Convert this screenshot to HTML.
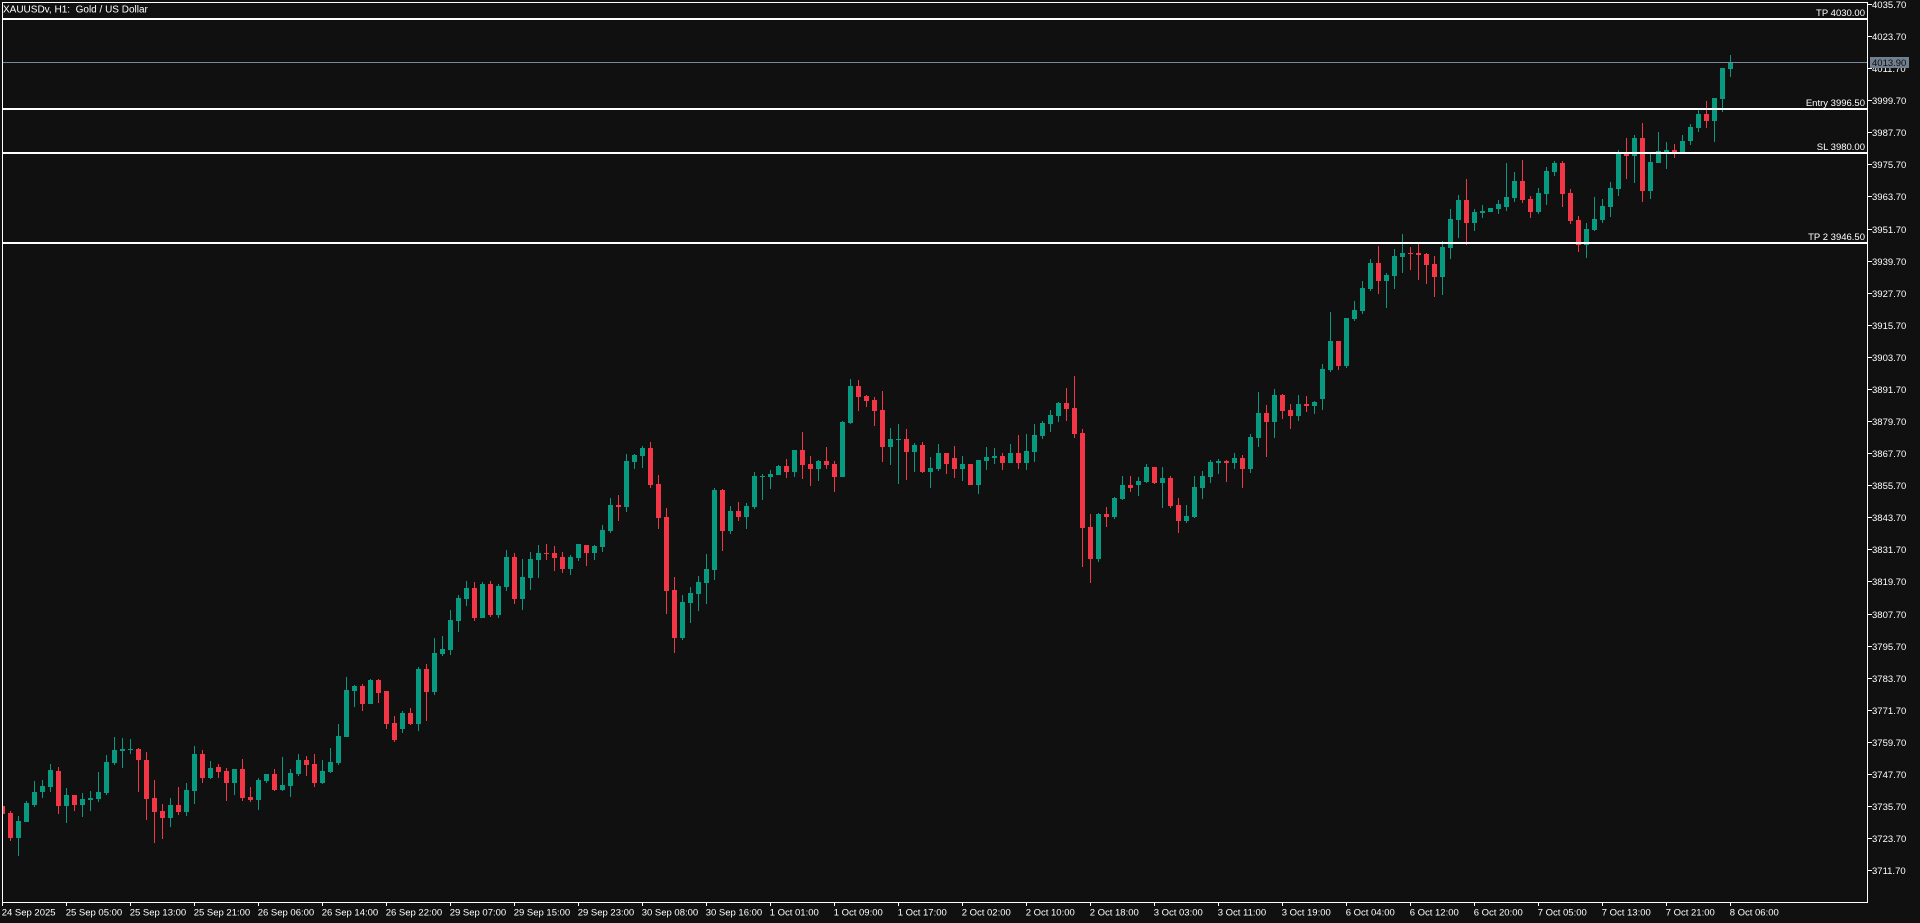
<!DOCTYPE html>
<html><head><meta charset="utf-8"><style>
html,body{margin:0;padding:0;background:#101010;width:1920px;height:923px;overflow:hidden}
svg{display:block}
text{font-family:"Liberation Sans",sans-serif;fill:#ffffff}
</style></head><body>
<svg width="1920" height="923" viewBox="0 0 1920 923" xmlns="http://www.w3.org/2000/svg">
<rect x="0" y="0" width="1920" height="923" fill="#101010"/>
<defs><clipPath id="pc"><rect x="3" y="3" width="1864" height="899"/></clipPath></defs>
<g clip-path="url(#pc)" shape-rendering="crispEdges">
<g fill="#f23645">
<path d="M0 806h5v8h-5zM2 806h1v8h-1z"/><path d="M8 813h5v25h-5zM10 811h1v30h-1z"/><path d="M56 771h5v35h-5zM58 767h1v47h-1z"/><path d="M72 795h5v10h-5zM74 795h1v16h-1z"/><path d="M136 749h5v11h-5zM138 748h1v44h-1z"/><path d="M144 760h5v39h-5zM146 752h1v68h-1z"/><path d="M152 798h5v14h-5zM154 780h1v63h-1z"/><path d="M160 811h5v7h-5zM162 804h1v35h-1z"/><path d="M176 805h5v7h-5zM178 787h1v28h-1z"/><path d="M200 754h5v24h-5zM202 750h1v33h-1z"/><path d="M216 767h5v5h-5zM218 764h1v14h-1z"/><path d="M224 771h5v12h-5zM226 768h1v33h-1z"/><path d="M240 769h5v29h-5zM242 759h1v42h-1z"/><path d="M248 797h5v3h-5zM250 787h1v15h-1z"/><path d="M272 774h5v16h-5zM274 769h1v22h-1z"/><path d="M304 760h5v5h-5zM306 756h1v20h-1z"/><path d="M312 764h5v19h-5zM314 754h1v33h-1z"/><path d="M360 686h5v18h-5zM362 684h1v27h-1z"/><path d="M376 680h5v13h-5zM378 679h1v24h-1z"/><path d="M384 691h5v33h-5zM386 691h1v38h-1z"/><path d="M392 723h5v17h-5zM394 716h1v26h-1z"/><path d="M408 713h5v11h-5zM410 708h1v17h-1z"/><path d="M424 669h5v23h-5zM426 664h1v57h-1z"/><path d="M472 588h5v30h-5zM474 582h1v39h-1z"/><path d="M488 584h5v31h-5zM490 581h1v36h-1z"/><path d="M512 557h5v42h-5zM514 553h1v51h-1z"/><path d="M544 553h5v1h-5zM546 544h1v16h-1z"/><path d="M552 553h5v5h-5zM554 546h1v25h-1z"/><path d="M560 557h5v12h-5zM562 552h1v21h-1z"/><path d="M584 545h5v8h-5zM586 545h1v21h-1z"/><path d="M616 505h5v2h-5zM618 495h1v26h-1z"/><path d="M648 448h5v37h-5zM650 442h1v46h-1z"/><path d="M656 484h5v34h-5zM658 475h1v54h-1z"/><path d="M664 517h5v74h-5zM666 508h1v106h-1z"/><path d="M672 590h5v48h-5zM674 577h1v76h-1z"/><path d="M720 490h5v41h-5zM722 489h1v62h-1z"/><path d="M736 511h5v6h-5zM738 502h1v19h-1z"/><path d="M784 466h5v6h-5zM786 459h1v19h-1z"/><path d="M800 450h5v15h-5zM802 432h1v47h-1z"/><path d="M808 464h5v5h-5zM810 456h1v30h-1z"/><path d="M824 461h5v4h-5zM826 447h1v22h-1z"/><path d="M832 464h5v13h-5zM834 461h1v31h-1z"/><path d="M856 386h5v11h-5zM858 380h1v31h-1z"/><path d="M864 396h5v5h-5zM866 395h1v12h-1z"/><path d="M872 400h5v11h-5zM874 397h1v29h-1z"/><path d="M880 410h5v37h-5zM882 391h1v71h-1z"/><path d="M904 439h5v13h-5zM906 429h1v51h-1z"/><path d="M920 445h5v27h-5zM922 442h1v31h-1z"/><path d="M944 453h5v11h-5zM946 453h1v21h-1z"/><path d="M952 458h5v11h-5zM954 446h1v32h-1z"/><path d="M968 464h5v21h-5zM970 464h1v21h-1z"/><path d="M1000 456h5v7h-5zM1002 453h1v17h-1z"/><path d="M1016 453h5v10h-5zM1018 435h1v34h-1z"/><path d="M1064 403h5v6h-5zM1066 388h1v33h-1z"/><path d="M1072 408h5v26h-5zM1074 376h1v62h-1z"/><path d="M1080 433h5v95h-5zM1082 429h1v138h-1z"/><path d="M1088 527h5v32h-5zM1090 514h1v69h-1z"/><path d="M1104 514h5v3h-5zM1106 507h1v20h-1z"/><path d="M1128 485h5v3h-5zM1130 476h1v16h-1z"/><path d="M1152 467h5v16h-5zM1154 467h1v17h-1z"/><path d="M1168 478h5v28h-5zM1170 476h1v32h-1z"/><path d="M1176 505h5v16h-5zM1178 498h1v35h-1z"/><path d="M1224 461h5v2h-5zM1226 460h1v22h-1z"/><path d="M1240 458h5v11h-5zM1242 455h1v33h-1z"/><path d="M1264 413h5v9h-5zM1266 405h1v52h-1z"/><path d="M1280 395h5v16h-5zM1282 394h1v25h-1z"/><path d="M1288 410h5v6h-5zM1290 404h1v25h-1z"/><path d="M1304 404h5v2h-5zM1306 396h1v16h-1z"/><path d="M1336 341h5v25h-5zM1338 341h1v29h-1z"/><path d="M1376 263h5v18h-5zM1378 246h1v48h-1z"/><path d="M1408 253h5v1h-5zM1410 247h1v23h-1z"/><path d="M1416 253h5v2h-5zM1418 244h1v36h-1z"/><path d="M1424 254h5v11h-5zM1426 253h1v31h-1z"/><path d="M1432 264h5v13h-5zM1434 256h1v41h-1z"/><path d="M1464 200h5v23h-5zM1466 179h1v66h-1z"/><path d="M1520 181h5v19h-5zM1522 160h1v43h-1z"/><path d="M1528 199h5v13h-5zM1530 196h1v22h-1z"/><path d="M1560 163h5v31h-5zM1562 161h1v46h-1z"/><path d="M1568 193h5v28h-5zM1570 189h1v35h-1z"/><path d="M1576 220h5v25h-5zM1578 216h1v36h-1z"/><path d="M1624 153h5v3h-5zM1626 138h1v41h-1z"/><path d="M1640 138h5v53h-5zM1642 123h1v79h-1z"/><path d="M1672 150h5v3h-5zM1674 144h1v14h-1z"/><path d="M1704 114h5v7h-5zM1706 101h1v27h-1z"/>
</g>
<g fill="#089981">
<path d="M16 821h5v17h-5zM18 816h1v40h-1z"/><path d="M24 803h5v19h-5zM26 801h1v21h-1z"/><path d="M32 792h5v13h-5zM34 781h1v26h-1z"/><path d="M40 786h5v6h-5zM42 780h1v18h-1z"/><path d="M48 770h5v17h-5zM50 764h1v28h-1z"/><path d="M64 795h5v11h-5zM66 788h1v35h-1z"/><path d="M80 799h5v6h-5zM82 793h1v24h-1z"/><path d="M88 798h5v2h-5zM90 791h1v20h-1z"/><path d="M96 792h5v7h-5zM98 772h1v30h-1z"/><path d="M104 762h5v31h-5zM106 755h1v40h-1z"/><path d="M112 750h5v13h-5zM114 737h1v28h-1z"/><path d="M120 749h5v2h-5zM122 738h1v30h-1z"/><path d="M128 749h5v1h-5zM130 739h1v15h-1z"/><path d="M168 805h5v13h-5zM170 798h1v29h-1z"/><path d="M184 790h5v22h-5zM186 783h1v33h-1z"/><path d="M192 754h5v37h-5zM194 746h1v58h-1z"/><path d="M208 768h5v10h-5zM210 761h1v18h-1z"/><path d="M232 769h5v14h-5zM234 769h1v26h-1z"/><path d="M256 780h5v20h-5zM258 778h1v32h-1z"/><path d="M264 774h5v7h-5zM266 774h1v9h-1z"/><path d="M280 785h5v5h-5zM282 757h1v34h-1z"/><path d="M288 773h5v13h-5zM290 769h1v28h-1z"/><path d="M296 760h5v14h-5zM298 754h1v22h-1z"/><path d="M320 771h5v12h-5zM322 760h1v24h-1z"/><path d="M328 762h5v10h-5zM330 748h1v25h-1z"/><path d="M336 736h5v27h-5zM338 724h1v41h-1z"/><path d="M344 690h5v47h-5zM346 677h1v60h-1z"/><path d="M352 686h5v5h-5zM354 685h1v22h-1z"/><path d="M368 680h5v24h-5zM370 679h1v25h-1z"/><path d="M400 713h5v16h-5zM402 711h1v22h-1z"/><path d="M416 669h5v55h-5zM418 667h1v64h-1z"/><path d="M432 653h5v39h-5zM434 638h1v57h-1z"/><path d="M440 649h5v5h-5zM442 636h1v20h-1z"/><path d="M448 620h5v30h-5zM450 610h1v45h-1z"/><path d="M456 598h5v23h-5zM458 595h1v37h-1z"/><path d="M464 588h5v11h-5zM466 581h1v25h-1z"/><path d="M480 584h5v34h-5zM482 582h1v36h-1z"/><path d="M496 586h5v29h-5zM498 584h1v34h-1z"/><path d="M504 557h5v30h-5zM506 550h1v41h-1z"/><path d="M520 577h5v22h-5zM522 559h1v51h-1z"/><path d="M528 559h5v19h-5zM530 552h1v38h-1z"/><path d="M536 553h5v7h-5zM538 545h1v33h-1z"/><path d="M568 557h5v12h-5zM570 555h1v20h-1z"/><path d="M576 544h5v14h-5zM578 544h1v17h-1z"/><path d="M592 546h5v7h-5zM594 545h1v15h-1z"/><path d="M600 530h5v17h-5zM602 525h1v27h-1z"/><path d="M608 505h5v26h-5zM610 498h1v35h-1z"/><path d="M624 461h5v46h-5zM626 454h1v58h-1z"/><path d="M632 455h5v7h-5zM634 454h1v15h-1z"/><path d="M640 448h5v8h-5zM642 446h1v22h-1z"/><path d="M680 602h5v36h-5zM682 595h1v45h-1z"/><path d="M688 593h5v10h-5zM690 587h1v36h-1z"/><path d="M696 582h5v12h-5zM698 576h1v35h-1z"/><path d="M704 569h5v14h-5zM706 554h1v50h-1z"/><path d="M712 490h5v80h-5zM714 488h1v92h-1z"/><path d="M728 511h5v20h-5zM730 506h1v28h-1z"/><path d="M744 506h5v11h-5zM746 503h1v26h-1z"/><path d="M752 476h5v31h-5zM754 472h1v37h-1z"/><path d="M760 476h5v1h-5zM762 474h1v26h-1z"/><path d="M768 474h5v3h-5zM770 470h1v19h-1z"/><path d="M776 466h5v9h-5zM778 465h1v10h-1z"/><path d="M792 450h5v22h-5zM794 450h1v27h-1z"/><path d="M816 461h5v8h-5zM818 460h1v21h-1z"/><path d="M840 422h5v55h-5zM842 421h1v56h-1z"/><path d="M848 386h5v37h-5zM850 379h1v45h-1z"/><path d="M888 439h5v8h-5zM890 428h1v37h-1z"/><path d="M896 439h5v1h-5zM898 424h1v60h-1z"/><path d="M912 445h5v7h-5zM914 443h1v29h-1z"/><path d="M928 468h5v4h-5zM930 457h1v31h-1z"/><path d="M936 453h5v16h-5zM938 444h1v27h-1z"/><path d="M960 464h5v5h-5zM962 456h1v25h-1z"/><path d="M976 460h5v25h-5zM978 460h1v34h-1z"/><path d="M984 457h5v4h-5zM986 447h1v23h-1z"/><path d="M992 456h5v2h-5zM994 448h1v16h-1z"/><path d="M1008 453h5v10h-5zM1010 444h1v19h-1z"/><path d="M1024 451h5v12h-5zM1026 434h1v36h-1z"/><path d="M1032 435h5v17h-5zM1034 424h1v38h-1z"/><path d="M1040 423h5v13h-5zM1042 421h1v18h-1z"/><path d="M1048 415h5v9h-5zM1050 410h1v22h-1z"/><path d="M1056 403h5v13h-5zM1058 402h1v20h-1z"/><path d="M1096 514h5v45h-5zM1098 513h1v49h-1z"/><path d="M1112 498h5v19h-5zM1114 497h1v22h-1z"/><path d="M1120 485h5v14h-5zM1122 476h1v24h-1z"/><path d="M1136 481h5v4h-5zM1138 477h1v19h-1z"/><path d="M1144 467h5v15h-5zM1146 464h1v19h-1z"/><path d="M1160 478h5v5h-5zM1162 467h1v41h-1z"/><path d="M1184 516h5v5h-5zM1186 505h1v18h-1z"/><path d="M1192 487h5v30h-5zM1194 476h1v42h-1z"/><path d="M1200 476h5v12h-5zM1202 471h1v28h-1z"/><path d="M1208 462h5v15h-5zM1210 460h1v23h-1z"/><path d="M1216 461h5v2h-5zM1218 459h1v15h-1z"/><path d="M1232 458h5v5h-5zM1234 453h1v16h-1z"/><path d="M1248 437h5v32h-5zM1250 434h1v39h-1z"/><path d="M1256 413h5v25h-5zM1258 392h1v55h-1z"/><path d="M1272 395h5v27h-5zM1274 389h1v49h-1z"/><path d="M1296 404h5v12h-5zM1298 395h1v26h-1z"/><path d="M1312 402h5v4h-5zM1314 401h1v13h-1z"/><path d="M1320 369h5v30h-5zM1322 364h1v46h-1z"/><path d="M1328 341h5v29h-5zM1330 312h1v60h-1z"/><path d="M1344 318h5v48h-5zM1346 318h1v50h-1z"/><path d="M1352 310h5v9h-5zM1354 301h1v20h-1z"/><path d="M1360 288h5v23h-5zM1362 281h1v33h-1z"/><path d="M1368 263h5v26h-5zM1370 259h1v32h-1z"/><path d="M1384 275h5v6h-5zM1386 273h1v35h-1z"/><path d="M1392 256h5v20h-5zM1394 249h1v40h-1z"/><path d="M1400 253h5v4h-5zM1402 234h1v39h-1z"/><path d="M1440 247h5v30h-5zM1442 241h1v54h-1z"/><path d="M1448 219h5v29h-5zM1450 209h1v50h-1z"/><path d="M1456 200h5v20h-5zM1458 195h1v43h-1z"/><path d="M1472 212h5v11h-5zM1474 209h1v22h-1z"/><path d="M1480 211h5v2h-5zM1482 205h1v13h-1z"/><path d="M1488 208h5v4h-5zM1490 208h1v4h-1z"/><path d="M1496 204h5v5h-5zM1498 200h1v14h-1z"/><path d="M1504 197h5v10h-5zM1506 163h1v48h-1z"/><path d="M1512 181h5v17h-5zM1514 172h1v30h-1z"/><path d="M1536 193h5v19h-5zM1538 188h1v26h-1z"/><path d="M1544 171h5v23h-5zM1546 167h1v38h-1z"/><path d="M1552 163h5v9h-5zM1554 161h1v15h-1z"/><path d="M1584 229h5v16h-5zM1586 223h1v35h-1z"/><path d="M1592 219h5v11h-5zM1594 197h1v34h-1z"/><path d="M1600 206h5v14h-5zM1602 199h1v24h-1z"/><path d="M1608 188h5v19h-5zM1610 182h1v35h-1z"/><path d="M1616 153h5v36h-5zM1618 150h1v46h-1z"/><path d="M1632 138h5v18h-5zM1634 135h1v48h-1z"/><path d="M1648 162h5v29h-5zM1650 154h1v45h-1z"/><path d="M1656 151h5v12h-5zM1658 132h1v31h-1z"/><path d="M1664 150h5v3h-5zM1666 142h1v27h-1z"/><path d="M1680 141h5v12h-5zM1682 135h1v18h-1z"/><path d="M1688 127h5v14h-5zM1690 124h1v21h-1z"/><path d="M1696 114h5v14h-5zM1698 110h1v22h-1z"/><path d="M1712 98h5v23h-5zM1714 98h1v44h-1z"/><path d="M1720 68h5v31h-5zM1722 68h1v44h-1z"/><path d="M1728 62h5v7h-5zM1730 55h1v22h-1z"/>
</g>
<!-- current price line -->
<rect x="3" y="62" width="1864" height="1" fill="#778899"/>
<!-- level lines -->
<rect x="3" y="18" width="1864" height="2" fill="#ffffff"/>
<rect x="3" y="108" width="1864" height="2" fill="#ffffff"/>
<rect x="3" y="152" width="1864" height="2" fill="#ffffff"/>
<rect x="3" y="242" width="1864" height="2" fill="#ffffff"/>
</g>
<!-- frame -->
<g shape-rendering="crispEdges" fill="#ffffff">
<rect x="2" y="2" width="1866" height="1"/>
<rect x="2" y="2" width="1" height="901"/>
<rect x="1867" y="2" width="1" height="901"/>
<rect x="2" y="902" width="1866" height="1"/>
</g>
<!-- level labels -->
<g font-size="9.5" text-anchor="end">
<text x="1865" y="16">TP 4030.00</text>
<text x="1865" y="106">Entry 3996.50</text>
<text x="1865" y="150">SL 3980.00</text>
<text x="1865" y="240">TP 2 3946.50</text>
</g>
<!-- title -->
<text x="3" y="12.5" font-size="10">XAUUSDv, H1:&#160; Gold / US Dollar</text>
<!-- price axis ticks -->
<g shape-rendering="crispEdges" fill="#ffffff">
<rect x="1868" y="4" width="4" height="1"/><rect x="1868" y="36" width="4" height="1"/><rect x="1868" y="68" width="4" height="1"/><rect x="1868" y="100" width="4" height="1"/><rect x="1868" y="132" width="4" height="1"/><rect x="1868" y="164" width="4" height="1"/><rect x="1868" y="196" width="4" height="1"/><rect x="1868" y="229" width="4" height="1"/><rect x="1868" y="261" width="4" height="1"/><rect x="1868" y="293" width="4" height="1"/><rect x="1868" y="325" width="4" height="1"/><rect x="1868" y="357" width="4" height="1"/><rect x="1868" y="389" width="4" height="1"/><rect x="1868" y="421" width="4" height="1"/><rect x="1868" y="453" width="4" height="1"/><rect x="1868" y="485" width="4" height="1"/><rect x="1868" y="517" width="4" height="1"/><rect x="1868" y="549" width="4" height="1"/><rect x="1868" y="581" width="4" height="1"/><rect x="1868" y="614" width="4" height="1"/><rect x="1868" y="646" width="4" height="1"/><rect x="1868" y="678" width="4" height="1"/><rect x="1868" y="710" width="4" height="1"/><rect x="1868" y="742" width="4" height="1"/><rect x="1868" y="774" width="4" height="1"/><rect x="1868" y="806" width="4" height="1"/><rect x="1868" y="838" width="4" height="1"/><rect x="1868" y="870" width="4" height="1"/>
</g>
<g font-size="9.5">
<text x="1872" y="8">4035.70</text><text x="1872" y="40">4023.70</text><text x="1872" y="72">4011.70</text><text x="1872" y="104">3999.70</text><text x="1872" y="136">3987.70</text><text x="1872" y="168">3975.70</text><text x="1872" y="200">3963.70</text><text x="1872" y="233">3951.70</text><text x="1872" y="265">3939.70</text><text x="1872" y="297">3927.70</text><text x="1872" y="329">3915.70</text><text x="1872" y="361">3903.70</text><text x="1872" y="393">3891.70</text><text x="1872" y="425">3879.70</text><text x="1872" y="457">3867.70</text><text x="1872" y="489">3855.70</text><text x="1872" y="521">3843.70</text><text x="1872" y="553">3831.70</text><text x="1872" y="585">3819.70</text><text x="1872" y="618">3807.70</text><text x="1872" y="650">3795.70</text><text x="1872" y="682">3783.70</text><text x="1872" y="714">3771.70</text><text x="1872" y="746">3759.70</text><text x="1872" y="778">3747.70</text><text x="1872" y="810">3735.70</text><text x="1872" y="842">3723.70</text><text x="1872" y="874">3711.70</text>
</g>
<!-- current price box -->
<rect x="1870" y="57" width="39" height="11" fill="#708090" shape-rendering="crispEdges"/>
<text x="1872" y="66" font-size="9.5" style="fill:#0c0c0c">4013.90</text>
<!-- time axis ticks -->
<g shape-rendering="crispEdges" fill="#ffffff">
<rect x="2" y="903" width="1" height="3"/><rect x="66" y="903" width="1" height="3"/><rect x="130" y="903" width="1" height="3"/><rect x="194" y="903" width="1" height="3"/><rect x="258" y="903" width="1" height="3"/><rect x="322" y="903" width="1" height="3"/><rect x="386" y="903" width="1" height="3"/><rect x="450" y="903" width="1" height="3"/><rect x="514" y="903" width="1" height="3"/><rect x="578" y="903" width="1" height="3"/><rect x="642" y="903" width="1" height="3"/><rect x="706" y="903" width="1" height="3"/><rect x="770" y="903" width="1" height="3"/><rect x="834" y="903" width="1" height="3"/><rect x="898" y="903" width="1" height="3"/><rect x="962" y="903" width="1" height="3"/><rect x="1026" y="903" width="1" height="3"/><rect x="1090" y="903" width="1" height="3"/><rect x="1154" y="903" width="1" height="3"/><rect x="1218" y="903" width="1" height="3"/><rect x="1282" y="903" width="1" height="3"/><rect x="1346" y="903" width="1" height="3"/><rect x="1410" y="903" width="1" height="3"/><rect x="1474" y="903" width="1" height="3"/><rect x="1538" y="903" width="1" height="3"/><rect x="1602" y="903" width="1" height="3"/><rect x="1666" y="903" width="1" height="3"/><rect x="1730" y="903" width="1" height="3"/>
</g>
<g font-size="9.5">
<text x="1.7" y="915.5">24 Sep 2025</text>
<text x="65.7" y="915.5">25 Sep 05:00</text>
<text x="129.7" y="915.5">25 Sep 13:00</text>
<text x="193.7" y="915.5">25 Sep 21:00</text>
<text x="257.7" y="915.5">26 Sep 06:00</text>
<text x="321.7" y="915.5">26 Sep 14:00</text>
<text x="385.7" y="915.5">26 Sep 22:00</text>
<text x="449.7" y="915.5">29 Sep 07:00</text>
<text x="513.7" y="915.5">29 Sep 15:00</text>
<text x="577.7" y="915.5">29 Sep 23:00</text>
<text x="641.7" y="915.5">30 Sep 08:00</text>
<text x="705.7" y="915.5">30 Sep 16:00</text>
<text x="769.7" y="915.5">1 Oct 01:00</text>
<text x="833.7" y="915.5">1 Oct 09:00</text>
<text x="897.7" y="915.5">1 Oct 17:00</text>
<text x="961.7" y="915.5">2 Oct 02:00</text>
<text x="1025.7" y="915.5">2 Oct 10:00</text>
<text x="1089.7" y="915.5">2 Oct 18:00</text>
<text x="1153.7" y="915.5">3 Oct 03:00</text>
<text x="1217.7" y="915.5">3 Oct 11:00</text>
<text x="1281.7" y="915.5">3 Oct 19:00</text>
<text x="1345.7" y="915.5">6 Oct 04:00</text>
<text x="1409.7" y="915.5">6 Oct 12:00</text>
<text x="1473.7" y="915.5">6 Oct 20:00</text>
<text x="1537.7" y="915.5">7 Oct 05:00</text>
<text x="1601.7" y="915.5">7 Oct 13:00</text>
<text x="1665.7" y="915.5">7 Oct 21:00</text>
<text x="1729.7" y="915.5">8 Oct 06:00</text>
</g>
</svg>
</body></html>
